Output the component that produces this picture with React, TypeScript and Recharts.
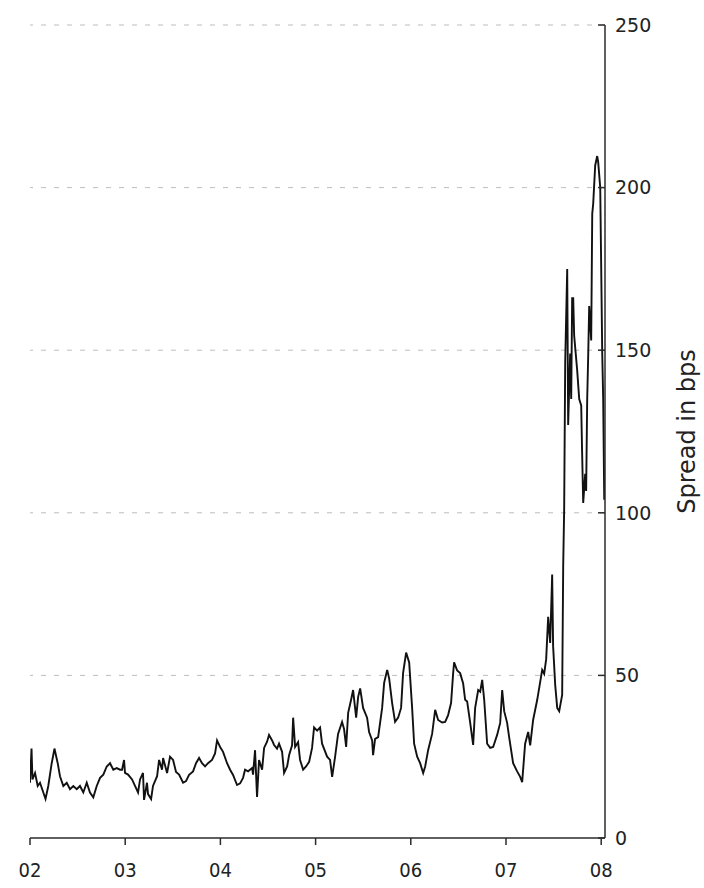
import { LineChart, Line, XAxis, YAxis, ReferenceLine } from "recharts";

// decimal year of each reading
const dates = [
  2002.0, 2002.016, 2002.026, 2002.053, 2002.081, 2002.105, 2002.14, 2002.163, 2002.192, 2002.228,
  2002.257, 2002.291, 2002.315, 2002.35, 2002.386, 2002.42, 2002.455, 2002.491, 2002.525, 2002.56,
  2002.596, 2002.63, 2002.665, 2002.701, 2002.736, 2002.77, 2002.806, 2002.841, 2002.875, 2002.911,
  2002.946, 2002.967, 2002.988, 2002.998, 2003.03, 2003.072, 2003.103, 2003.135, 2003.156, 2003.187,
  2003.198, 2003.229, 2003.24, 2003.272, 2003.292, 2003.335, 2003.356, 2003.387, 2003.398, 2003.44,
  2003.471, 2003.503, 2003.534, 2003.566, 2003.608, 2003.639, 2003.671, 2003.713, 2003.744, 2003.776,
  2003.807, 2003.839, 2003.87, 2003.912, 2003.944, 2003.965, 2003.997, 2004.028, 2004.07, 2004.102,
  2004.133, 2004.175, 2004.207, 2004.238, 2004.259, 2004.291, 2004.333, 2004.343, 2004.364, 2004.385,
  2004.406, 2004.438, 2004.459, 2004.49, 2004.511, 2004.543, 2004.564, 2004.595, 2004.616, 2004.648,
  2004.669, 2004.701, 2004.722, 2004.753, 2004.764, 2004.785, 2004.816, 2004.837, 2004.869, 2004.9,
  2004.932, 2004.963, 2004.984, 2005.016, 2005.047, 2005.068, 2005.121, 2005.152, 2005.174, 2005.205,
  2005.236, 2005.278, 2005.299, 2005.321, 2005.342, 2005.373, 2005.394, 2005.426, 2005.447, 2005.468,
  2005.499, 2005.541, 2005.562, 2005.594, 2005.604, 2005.625, 2005.657, 2005.699, 2005.72, 2005.752,
  2005.773, 2005.804, 2005.835, 2005.867, 2005.898, 2005.919, 2005.951, 2005.983, 2006.014, 2006.035,
  2006.067, 2006.098, 2006.13, 2006.151, 2006.182, 2006.224, 2006.256, 2006.287, 2006.329, 2006.361,
  2006.392, 2006.423, 2006.445, 2006.455, 2006.487, 2006.518, 2006.55, 2006.571, 2006.592, 2006.624,
  2006.655, 2006.676, 2006.708, 2006.729, 2006.75, 2006.771, 2006.802, 2006.834, 2006.865, 2006.907,
  2006.939, 2006.96, 2006.981, 2007.012, 2007.033, 2007.075, 2007.117, 2007.149, 2007.17, 2007.201,
  2007.233, 2007.254, 2007.285, 2007.328, 2007.38, 2007.401, 2007.422, 2007.443, 2007.464, 2007.485,
  2007.495, 2007.517, 2007.538, 2007.559, 2007.59, 2007.601, 2007.611, 2007.622, 2007.643, 2007.653,
  2007.674, 2007.685, 2007.695, 2007.706, 2007.716, 2007.748, 2007.769, 2007.79, 2007.8, 2007.811,
  2007.832, 2007.842, 2007.853, 2007.863, 2007.874, 2007.895, 2007.906, 2007.916, 2007.937, 2007.958,
  2007.968, 2007.99, 2008.011, 2008.021, 2008.032,
];

// spread in bps
const spread = [
  17, 27.5, 18, 20, 16, 17, 14, 12, 16, 23,
  27.5, 23, 19, 16, 17, 15, 16, 15, 16, 14,
  17, 14, 12.5, 16, 18.5, 19.5, 22, 23, 21, 21.5,
  21, 21, 24, 20, 19.5, 18, 16, 14, 18, 20,
  11.7, 17, 13.5, 12, 16, 19, 24, 21, 24.6, 20,
  25, 24, 20.3, 19.5, 17, 17.5, 19.4, 20.5, 23, 24.6,
  23, 22, 23, 24, 26, 30, 28, 26.5, 23, 21,
  19.4, 16.3, 16.8, 18.5, 21, 20.5, 21.5, 19.5, 27, 12.6,
  24, 21, 27.7, 29.6, 31.7, 30, 28.6, 27.5, 29, 26.5,
  20, 22, 25.5, 28.5, 37, 28, 29.5, 24, 21, 22,
  23.4, 27.7, 34, 33, 34, 29, 25, 24, 18.8, 25,
  32, 35.7, 33.5, 28, 38.5, 42.5, 45.5, 37, 43.4, 46,
  40, 37, 32.6, 30, 25.5, 30.5, 31, 40, 47.7, 51.7,
  49, 41.5, 35.7, 37, 40, 50.7, 57, 54, 40, 29,
  25, 23, 20, 22, 27, 32, 39.4, 36.3, 35.5, 35.7,
  37.8, 41.5, 50.7, 54, 51.5, 50.7, 47.5, 42.5, 42, 35.4,
  28.6, 40, 45.5, 45, 48.6, 42.5, 29, 27.7, 28, 31.7,
  35.4, 45.5, 39, 35.4, 31, 23, 20.5, 18.8, 17.2, 29,
  32.6, 28.5, 36.3, 42.5, 51.7, 50.5, 55, 68, 60, 81,
  59, 47, 40, 39, 44, 84, 101, 146.5, 175, 127,
  149, 135, 166, 166, 154.5, 143.7, 135, 133, 118, 103,
  112, 106.7, 135, 147.6, 163.6, 153, 192, 195, 206.8, 209.7,
  208, 200, 149, 135, 104,
];

const yearTicks = [2002, 2003, 2004, 2005, 2006, 2007, 2008];
const yearLabels = ["02", "03", "04", "05", "06", "07", "08"];
const spreadTicks = [0, 50, 100, 150, 200, 250];
const gridValues = [50, 100, 150, 200, 250];

const points = dates.map((t, i) => ({ t, spread: spread[i] }));

const axisColor = "#2b2b2b";
const textColor = "#222";

function YTick(props: any) {
  const { x, y, payload } = props;
  return (
    <g>
      <line x1={x - 17} x2={x - 10} y1={y} y2={y} stroke={axisColor} strokeWidth={1.5} />
      <text
        x={x}
        y={y}
        dy="0.36em"
        fill={textColor}
        fontSize={19}
        fontFamily="DejaVu Sans, Verdana, sans-serif"
        textAnchor="start"
      >
        {payload.value}
      </text>
    </g>
  );
}

export default function App() {
  return (
    <div style={{ position: "absolute", left: 0, top: 0, background: "#fff" }}>
      <LineChart
        width={704}
        height={888}
        data={points}
        margin={{ top: 25, right: 0, bottom: 0, left: 30 }}
      >
        {gridValues.map((v) => (
          <ReferenceLine key={v} y={v} stroke="#bdbdbd" strokeDasharray="5 8" strokeWidth={1} />
        ))}
        <XAxis
          dataKey="t"
          type="number"
          domain={[2002, 2008.04]}
          allowDataOverflow
          ticks={yearTicks}
          tickFormatter={(v: number) => yearLabels[yearTicks.indexOf(v)]}
          height={50}
          tickSize={7}
          tickMargin={18}
          stroke={axisColor}
          strokeWidth={1.5}
          tick={{ fill: textColor, fontSize: 20, fontFamily: "DejaVu Sans Condensed, DejaVu Sans, sans-serif" }}
        />
        <YAxis
          orientation="right"
          domain={[0, 250]}
          ticks={spreadTicks}
          width={99}
          tickSize={0}
          tickMargin={10}
          tickLine={false}
          stroke={axisColor}
          strokeWidth={1.5}
          tick={<YTick />}
          label={{
            value: "Spread in bps",
            angle: -90,
            position: "center",
            dx: 32,
            fill: textColor,
            fontSize: 24,
            fontFamily: "DejaVu Sans, Verdana, sans-serif",
          }}
        />
        <Line
          type="linear"
          dataKey="spread"
          stroke="#111"
          strokeWidth={1.9}
          dot={false}
          isAnimationActive={false}
        />
      </LineChart>
    </div>
  );
}
